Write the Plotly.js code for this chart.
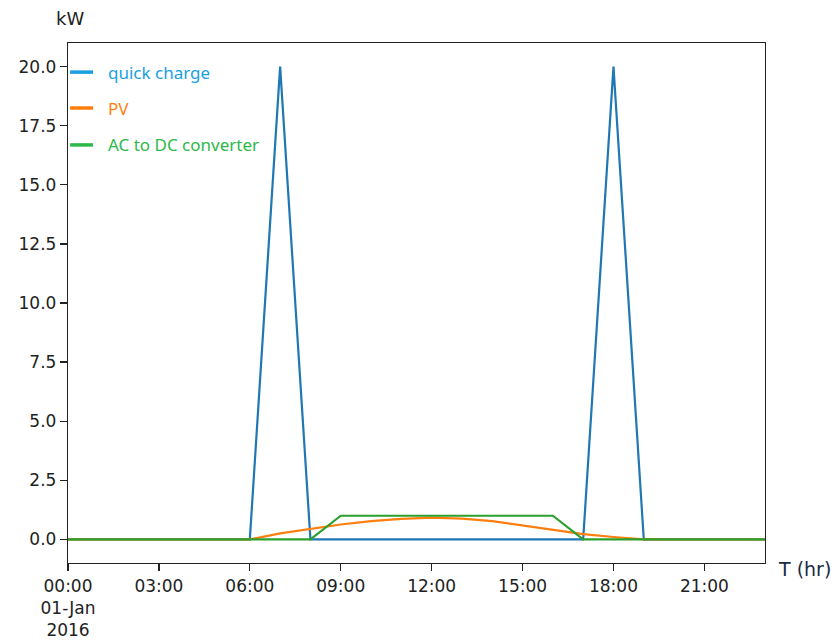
<!DOCTYPE html>
<html>
<head>
<meta charset="utf-8">
<script src="https://cdn.plot.ly/plotly-3.0.1.min.js"></script>
<style>html,body{margin:0;padding:0;background:#fff;}#chart{width:839px;height:641px;}</style>
</head>
<body>
<div id="chart"></div>
<script>
const hours = [0,1,2,3,4,5,6,7,8,9,10,11,12,13,14,15,16,17,18,19,20,21,22,23];
const quickCharge = [0,0,0,0,0,0,0,20,0,0,0,0,0,0,0,0,0,0,20,0,0,0,0,0];
const pv = [0,0,0,0,0,0,0,0.25,0.45,0.63,0.77,0.87,0.92,0.88,0.77,0.58,0.4,0.22,0.1,0,0,0,0,0];
const acdc = [0,0,0,0,0,0,0,0,0,1,1,1,1,1,1,1,1,0,0,0,0,0,0,0];
const tickHours = [0,3,6,9,12,15,18,21];
const tickLabels = ["00:00<br>01-Jan<br>2016","03:00","06:00","09:00","12:00","15:00","18:00","21:00"];
const yTicks = [0,2.5,5,7.5,10,12.5,15,17.5,20];
const seriesNames = ["quick charge","PV","AC to DC converter"];
const lineColors = ["#1f77b4","#ff7f0e","#2ca02c"];
const legendColors = ["#1a9fe3","#ff7f0e","#2db84a"];

const series = [quickCharge, pv, acdc];
const traces = series.map((s,i)=>({
  x: hours, y: s, type:'scatter', mode:'lines', name: seriesNames[i],
  line:{color: lineColors[i], width:2.2}, showlegend:false, hoverinfo:'x+y'
}));

const legendY = [0.944, 0.875, 0.804];
const shapes = [];
const annotations = [];
seriesNames.forEach((n,i)=>{
  shapes.push({type:'line', xref:'paper', yref:'paper', x0:0.003, x1:0.036, y0:legendY[i], y1:legendY[i],
    line:{color: legendColors[i], width:3.5}});
  annotations.push({xref:'paper', yref:'paper', x:0.055, y:legendY[i], xanchor:'left', yanchor:'middle',
    text:n, showarrow:false, font:{family:'Noto Sans, Open Sans, sans-serif', size:17, color: legendColors[i]}});
});
annotations.push({xref:'paper', yref:'paper', x:0.003, y:1.0, yshift:25, xanchor:'center', yanchor:'middle',
  text:'kW', showarrow:false, font:{family:'DejaVu Sans', size:18, color:'#222'}});
annotations.push({xref:'paper', yref:'paper', x:1.0, xshift:11, y:0, yshift:-6, xanchor:'left', yanchor:'middle',
  text:'T (hr)', showarrow:false, font:{family:'DejaVu Sans', size:19, color:'#1a2a45'}});

const layout = {
  width:839, height:641,
  margin:{l:68, r:74, t:43, b:78},
  paper_bgcolor:'#fff', plot_bgcolor:'#fff',
  font:{family:'DejaVu Sans', size:17, color:'#222'},
  xaxis:{range:[0,23], tickvals:tickHours, ticktext:tickLabels, ticks:'outside', ticklen:7, tickwidth:1.2,
    tickcolor:'#222', showgrid:false, zeroline:false, showline:true, linecolor:'#222', linewidth:1.2, mirror:true,
    tickfont:{family:'DejaVu Sans', size:17, color:'#222'}},
  yaxis:{range:[-1,21], tickvals:yTicks, tickformat:'.1f', ticks:'outside', ticklen:7, tickwidth:1.2,
    tickcolor:'#222', showgrid:false, zeroline:false, showline:true, linecolor:'#222', linewidth:1.2, mirror:true,
    tickfont:{family:'DejaVu Sans', size:17, color:'#222'}},
  shapes: shapes, annotations: annotations, showlegend:false
};
Plotly.newPlot('chart', traces, layout, {displayModeBar:false, staticPlot:true});
</script>
</body>
</html>
